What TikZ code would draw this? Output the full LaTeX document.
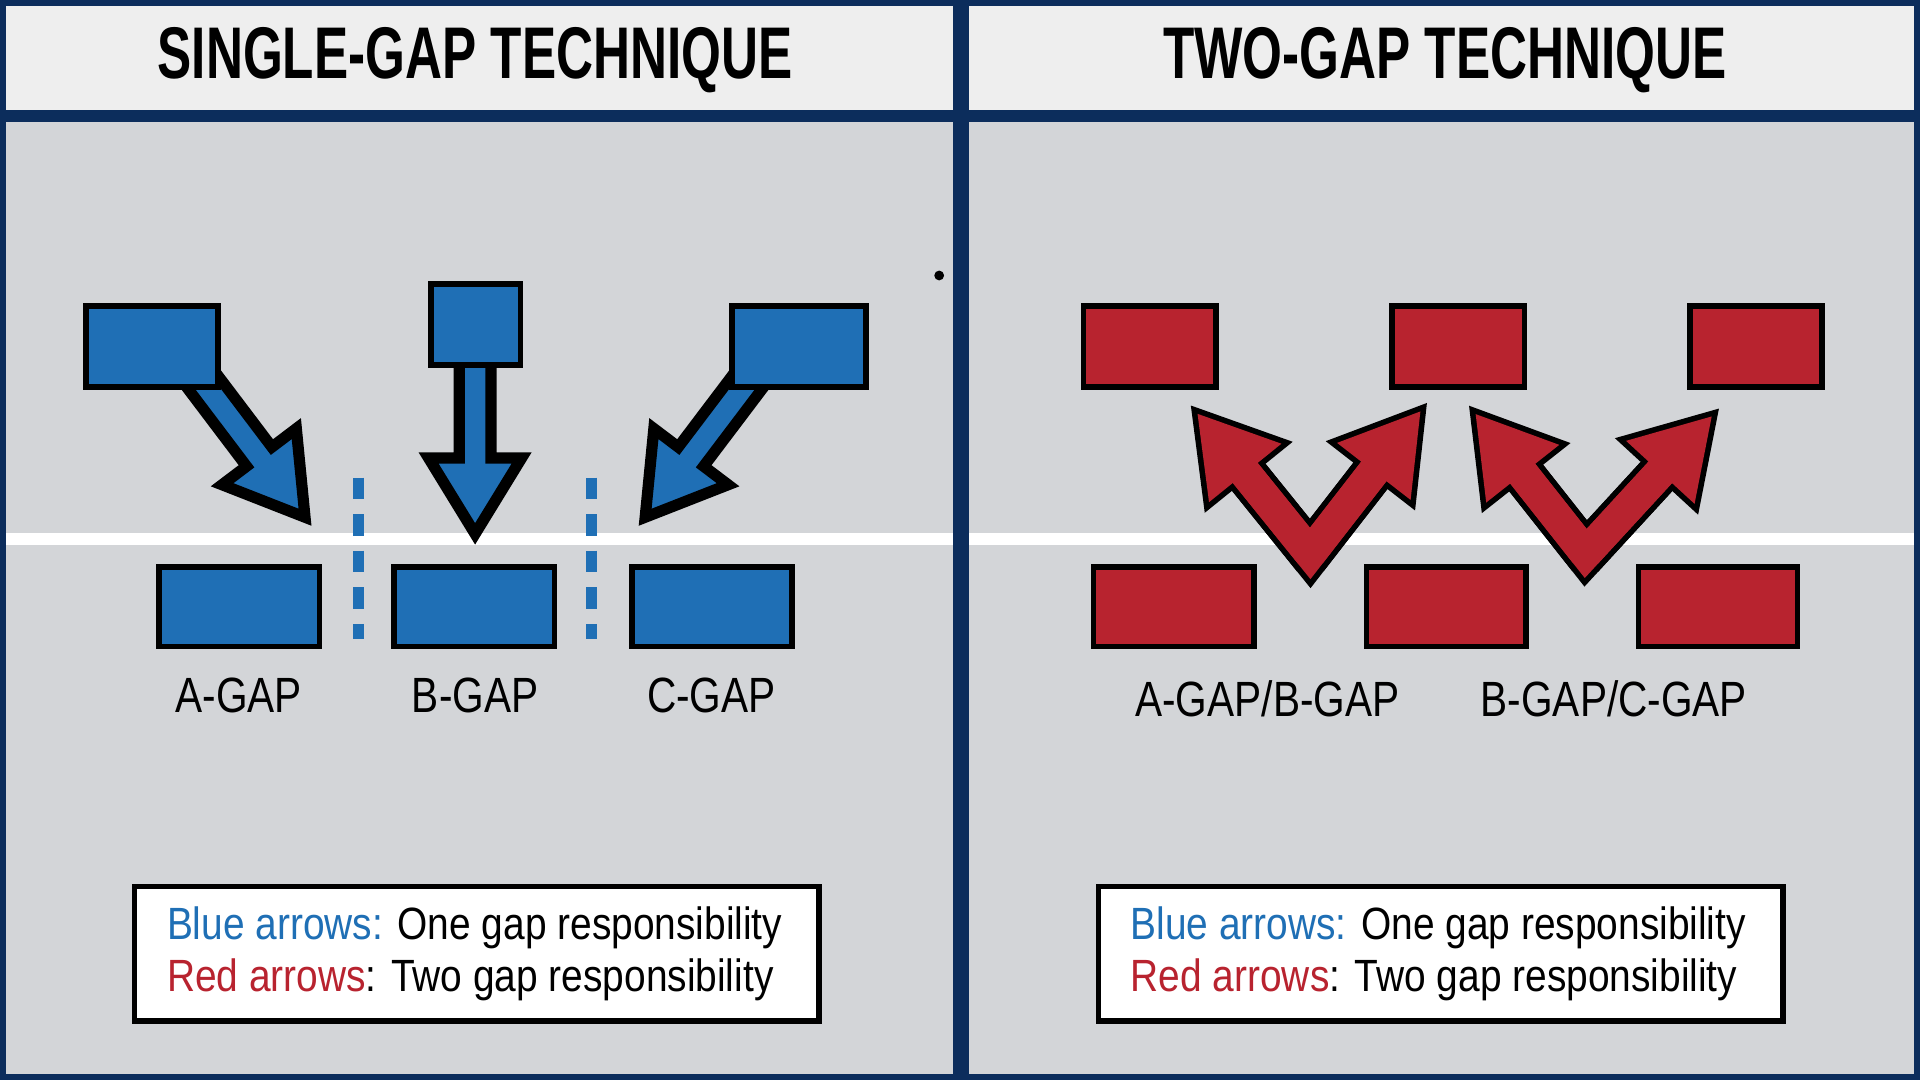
\documentclass[tikz,border=0pt]{standalone}
\usepackage{fontspec}
\setmainfont{Liberation Sans}
\usetikzlibrary{calc}
\newcommand\mkarrow[6]{% x y angle length color style
  \begin{scope}[shift={(#1,#2)},rotate=#3]
  \path[#6] (0,-13)--(#4-62,-13)--(#4-62,-38)--(#4,0)--(#4-62,38)--(#4-62,13)--(0,13)--cycle;
  \end{scope}}
\newcommand\veearrow[5]{% x y a1 L1 a2 L2 via #5 = a2,L2 not possible; use separate
}
\begin{document}
\definecolor{navy}{HTML}{0C2D5C}
\definecolor{bl}{HTML}{1F6FB5}
\definecolor{rd}{HTML}{B8232F}
\definecolor{bg}{HTML}{D3D5D8}
\definecolor{hd}{HTML}{EEEEEE}
\begin{tikzpicture}[x=0.01cm,y=0.01cm,
  box/.style={draw=black,line width=1.3pt},
  lbl/.style={font=\fontsize{11.5}{13}\selectfont},
  ttl/.style={font=\fontsize{17}{19}\selectfont\bfseries},
  leg/.style={font=\fontsize{10.5}{12}\selectfont,align=left,anchor=west},
  outl/.style={draw=black,line width=2.6pt,fill=#1,line join=miter},
  fil/.style={fill=#1},
  vblack/.style={draw=black,line width=10pt,line join=miter,miter limit=10},
  vred/.style={draw=rd,line width=7.4pt,line join=miter,miter limit=10}]
\useasboundingbox (0,0) rectangle (1568,882);
\fill[navy] (0,0) rectangle (1568,882);
% panels
\fill[bg] (5,5) rectangle (778,782);
\fill[bg] (791,5) rectangle (1563,782);
\fill[hd] (5,792) rectangle (778,877);
\fill[hd] (791,792) rectangle (1563,877);
% white line
\fill[white] (5,437) rectangle (778,447);
\fill[white] (791,437) rectangle (1563,447);
% titles
\node[ttl] (t1) at (388,833) {\scalebox{0.7}[1]{SINGLE-GAP TECHNIQUE}};
\node[ttl] (t2) at (1180,833) {\scalebox{0.7}[1]{TWO-GAP TECHNIQUE}};
% blue arrows
\mkarrow{155}{584}{-52.9}{156}{bl}{outl=bl}
\mkarrow{388}{590}{-90}{144}{bl}{outl=bl}
\mkarrow{621}{584}{-127.1}{156}{bl}{outl=bl}
% blue boxes
\draw[box,fill=bl] (70,566) rectangle (178,632);
\draw[box,fill=bl] (352,584) rectangle (425,650);
\draw[box,fill=bl] (598,566) rectangle (707,632);
\draw[box,fill=bl] (130,354) rectangle (261,419);
\draw[box,fill=bl] (322,354) rectangle (453,419);
\draw[box,fill=bl] (516,354) rectangle (647,419);
\draw[bl,line width=2.6pt,dash pattern=on 5pt off 3.5pt] (293,492)--(293,360);
\draw[bl,line width=2.6pt,dash pattern=on 5pt off 3.5pt] (483,492)--(483,360);
\node[lbl] (la) at (195,314) {\scalebox{0.82}[1]{A-GAP}};
\node[lbl] (lb) at (388,314) {\scalebox{0.82}[1]{B-GAP}};
\node[lbl] (lc) at (581,314) {\scalebox{0.82}[1]{C-GAP}};
% red V arrows
\coordinate (v1) at (1070,430);
\coordinate (v2) at (1295,430);
\mkarrow{1070}{430}{128.9}{146.5}{rd}{outl=rd}
\mkarrow{1070}{430}{52.2}{146.8}{rd}{outl=rd}
\mkarrow{1295}{430}{128.3}{145}{rd}{outl=rd}
\mkarrow{1295}{430}{47.4}{152}{rd}{outl=rd}
\draw[vblack] ($(v1)+(128.9:80)$) -- (v1) -- ($(v1)+(52.2:80)$);
\draw[vblack] ($(v2)+(128.3:80)$) -- (v2) -- ($(v2)+(47.4:85)$);
\mkarrow{1070}{430}{128.9}{146.5}{rd}{fil=rd}
\mkarrow{1070}{430}{52.2}{146.8}{rd}{fil=rd}
\mkarrow{1295}{430}{128.3}{145}{rd}{fil=rd}
\mkarrow{1295}{430}{47.4}{152}{rd}{fil=rd}
\draw[vred] ($(v1)+(128.9:86)$) -- (v1) -- ($(v1)+(52.2:86)$);
\draw[vred] ($(v2)+(128.3:86)$) -- (v2) -- ($(v2)+(47.4:91)$);
% red boxes
\draw[box,fill=rd] (885,566) rectangle (993,632);
\draw[box,fill=rd] (1137,566) rectangle (1245,632);
\draw[box,fill=rd] (1380,566) rectangle (1488,632);
\draw[box,fill=rd] (893,354) rectangle (1024,419);
\draw[box,fill=rd] (1116,354) rectangle (1246,419);
\draw[box,fill=rd] (1338,354) rectangle (1468,419);
\node[lbl] (lab) at (1035,311) {\scalebox{0.82}[1]{A-GAP/B-GAP}};
\node[lbl] (lbc) at (1318,311) {\scalebox{0.82}[1]{B-GAP/C-GAP}};
% legends
\draw[box,fill=white] (110,48) rectangle (669,158);
\draw[box,fill=white] (897,48) rectangle (1456,158);
\node[leg] (g1) at (124,103) {\scalebox{0.86}[1]{\textcolor{bl}{Blue arrows:} One gap responsibility}\\\scalebox{0.86}[1]{\textcolor{rd}{Red arrows}: Two gap responsibility}};
\node[leg] (g2) at (911,103) {\scalebox{0.86}[1]{\textcolor{bl}{Blue arrows:} One gap responsibility}\\\scalebox{0.86}[1]{\textcolor{rd}{Red arrows}: Two gap responsibility}};
\fill[black] (767,657) circle (4);
\end{tikzpicture}
\end{document}
